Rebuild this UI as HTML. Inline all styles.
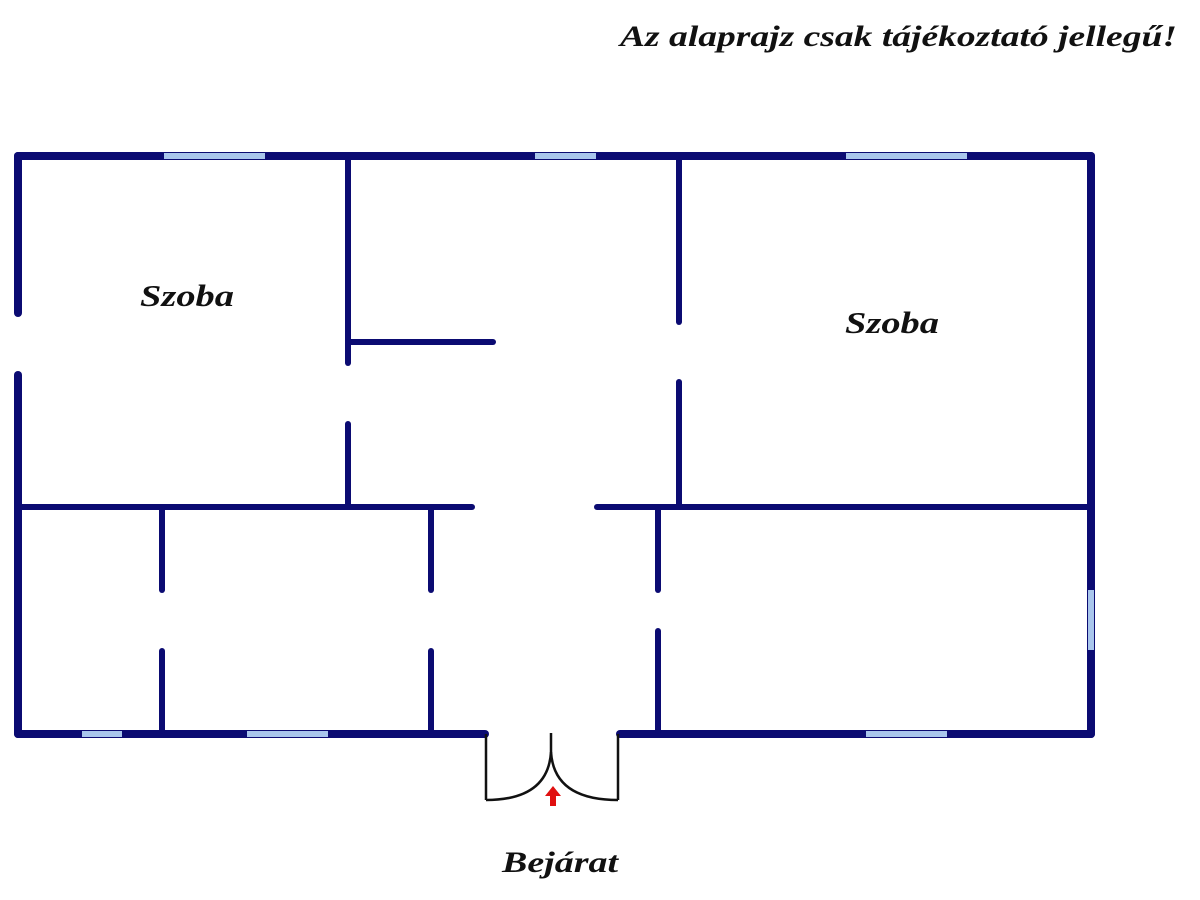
<!DOCTYPE html>
<html><head><style>html,body{margin:0;padding:0;background:#fff}svg{display:block}</style></head>
<body>
<svg width="1200" height="900" viewBox="0 0 1200 900" xmlns="http://www.w3.org/2000/svg">
<rect width="1200" height="900" fill="#fff"/>
<g style="font-family:'Liberation Serif',serif;font-style:italic;font-weight:bold" fill="#111">
<text x="620" y="46" font-size="30" textLength="557" lengthAdjust="spacingAndGlyphs">Az alaprajz csak tájékoztató jellegű!</text>
<text x="140" y="306" font-size="31" textLength="94" lengthAdjust="spacingAndGlyphs">Szoba</text>
<text x="845" y="333" font-size="31" textLength="94" lengthAdjust="spacingAndGlyphs">Szoba</text>
<text x="502" y="872" font-size="30" textLength="116" lengthAdjust="spacingAndGlyphs">Bejárat</text>
</g>
<g stroke="#0b0b72" stroke-linecap="round" fill="none">
<g stroke-width="8">
<line x1="18" y1="156" x2="1091" y2="156"/>
<line x1="18" y1="156" x2="18" y2="313"/>
<line x1="18" y1="375" x2="18" y2="734"/>
<line x1="1091" y1="156" x2="1091" y2="734"/>
<line x1="18" y1="734" x2="485" y2="734"/>
<line x1="620" y1="734" x2="1091" y2="734"/>
</g>
<g stroke-width="6">
<line x1="348" y1="160" x2="348" y2="363"/>
<line x1="348" y1="424" x2="348" y2="505"/>
<line x1="348" y1="342" x2="493" y2="342"/>
<line x1="679" y1="160" x2="679" y2="322"/>
<line x1="679" y1="382" x2="679" y2="505"/>
<line x1="20" y1="507" x2="472" y2="507"/>
<line x1="597" y1="507" x2="1088" y2="507"/>
<line x1="162" y1="510" x2="162" y2="590"/>
<line x1="162" y1="651" x2="162" y2="731"/>
<line x1="431" y1="510" x2="431" y2="590"/>
<line x1="431" y1="651" x2="431" y2="731"/>
<line x1="658" y1="510" x2="658" y2="590"/>
<line x1="658" y1="631" x2="658" y2="731"/>
</g>
</g>
<g fill="#a9c6ec">
<rect x="164" y="153" width="101" height="6"/>
<rect x="535" y="153" width="61" height="6"/>
<rect x="846" y="153" width="121" height="6"/>
<rect x="82" y="731" width="40" height="6"/>
<rect x="247" y="731" width="81" height="6"/>
<rect x="866" y="731" width="81" height="6"/>
<rect x="1088" y="590" width="6" height="60"/>
</g>
<g stroke="#111" stroke-width="2.5" fill="none">
<polyline points="486,734 486,800"/>
<polyline points="618,734 618,800"/>
<path d="M486,800 Q548,800 551,752 L551,733"/>
<path d="M618,800 Q554,800 551,752"/>
</g>
<path d="M553,786 L545,796 L550,796 L550,806 L556,806 L556,796 L561,796 Z" fill="#e01010"/>
</svg>
</body></html>
